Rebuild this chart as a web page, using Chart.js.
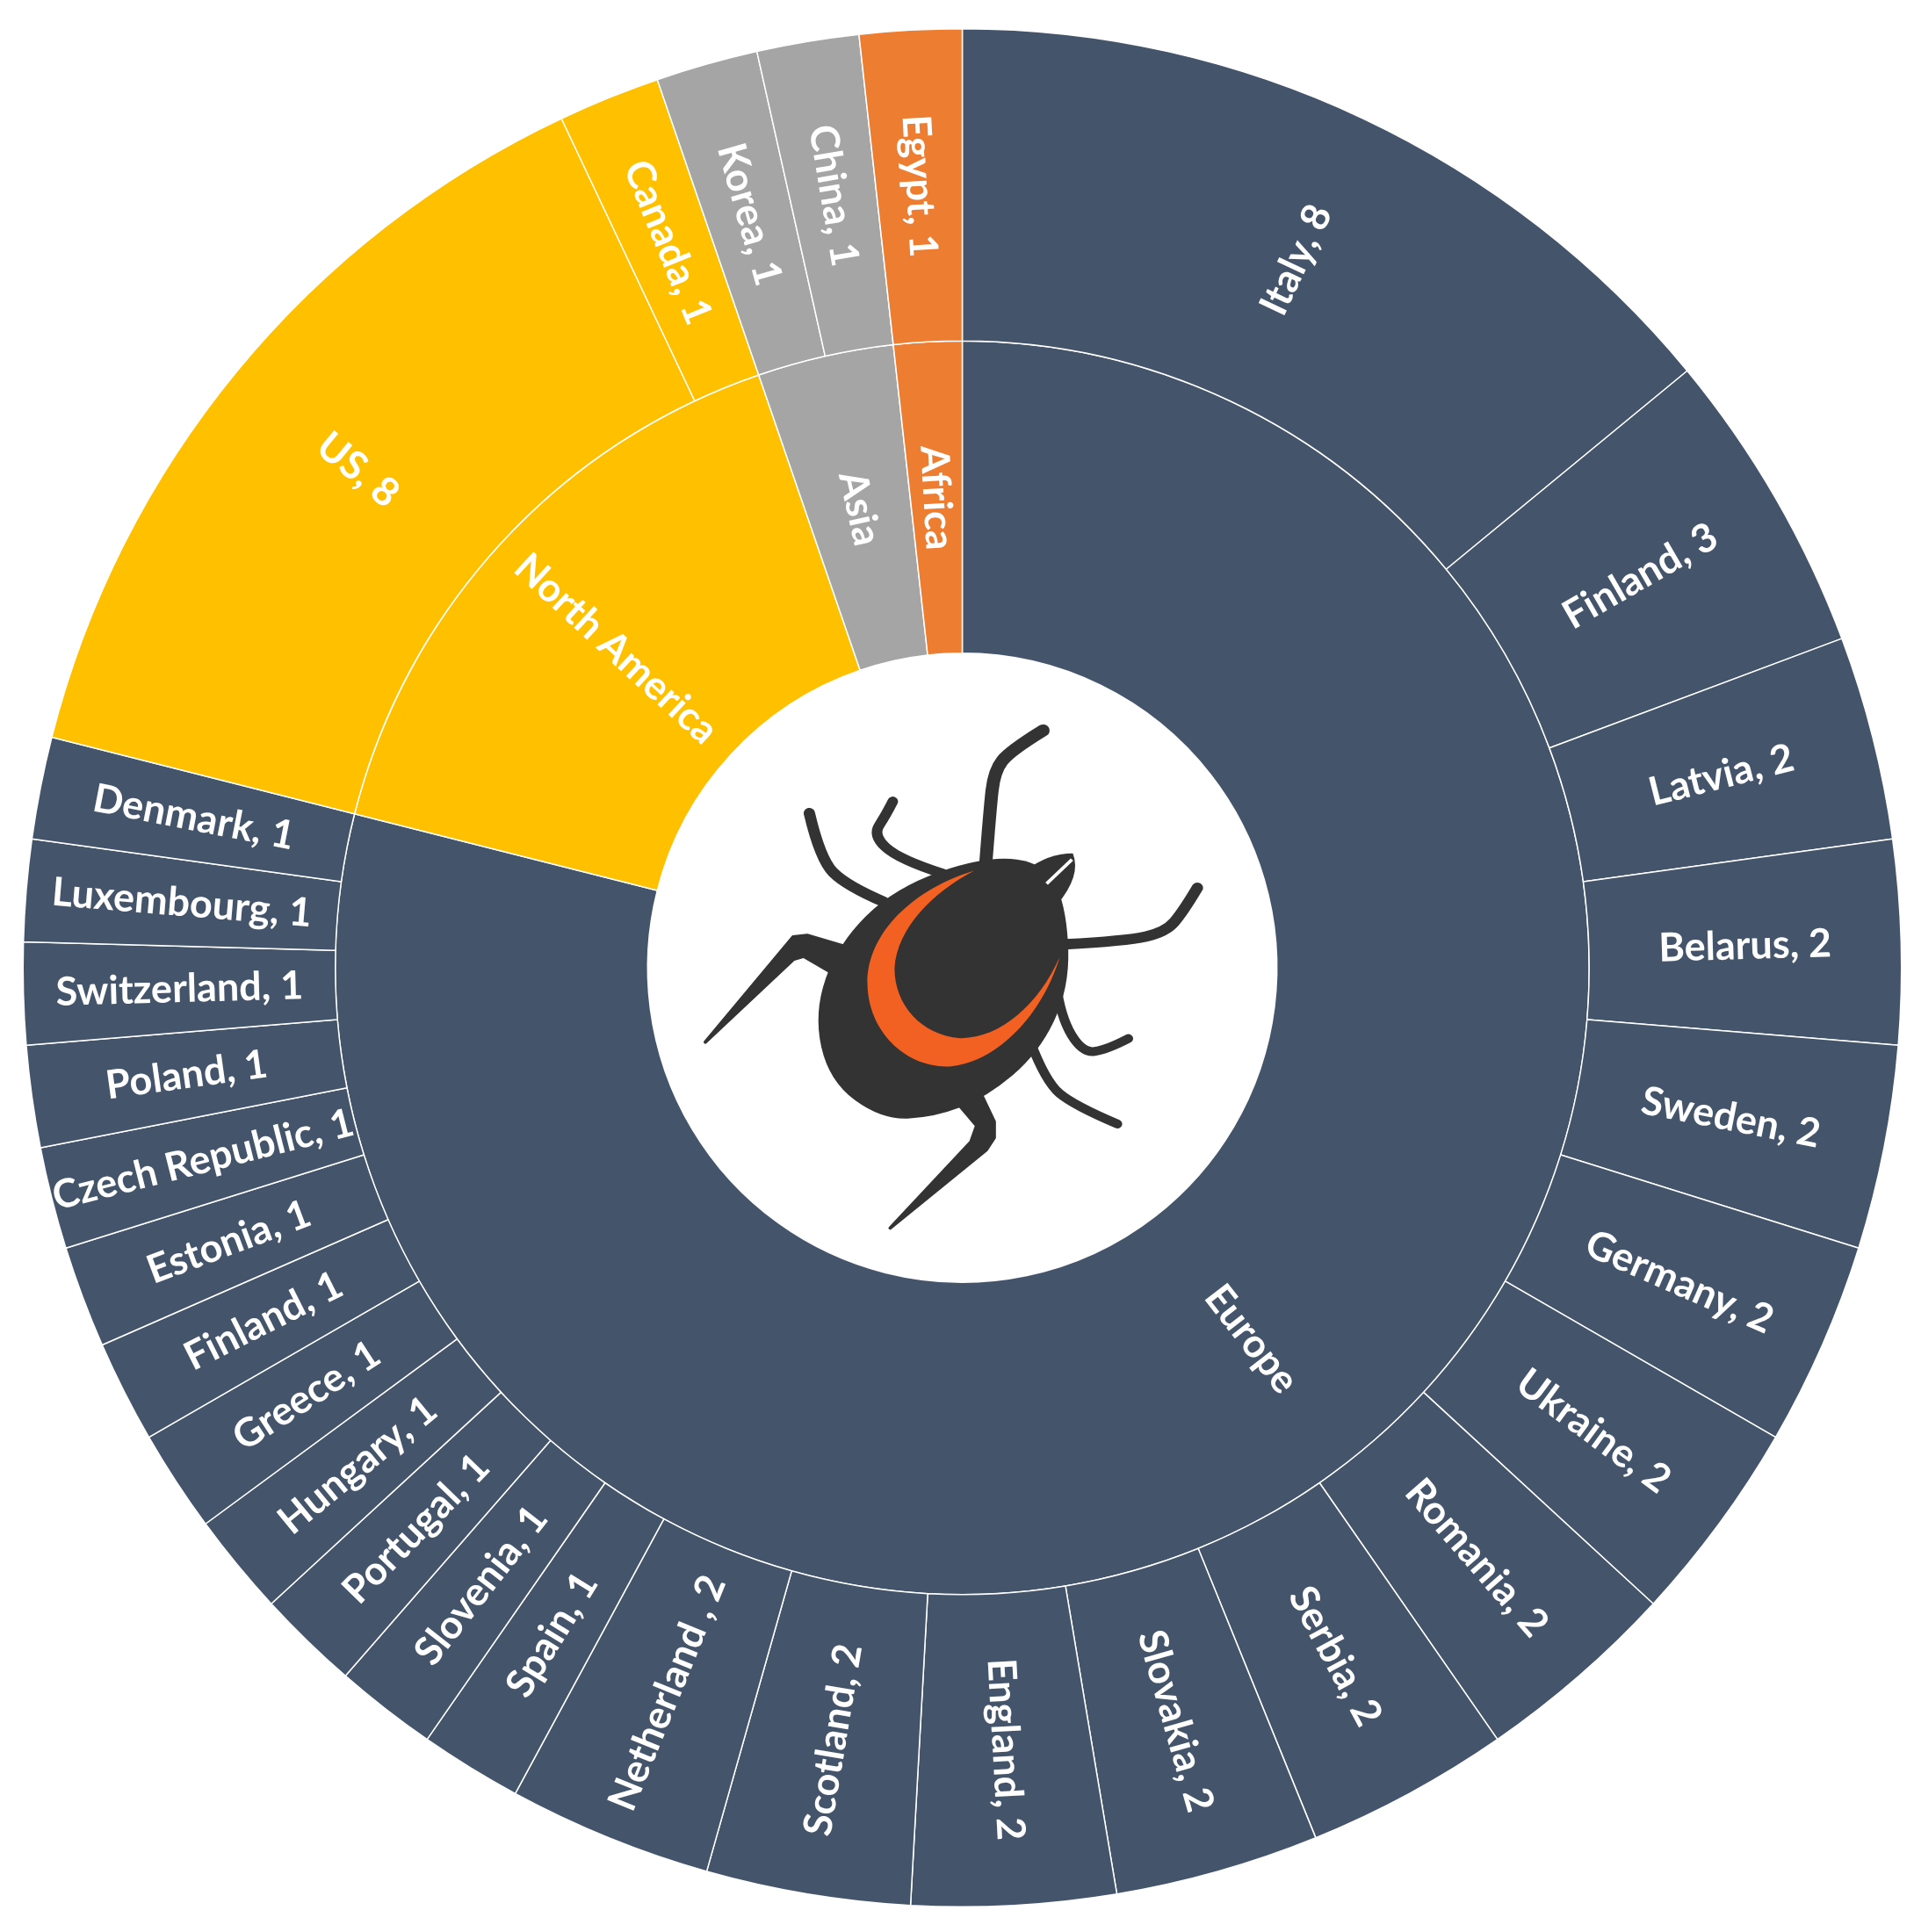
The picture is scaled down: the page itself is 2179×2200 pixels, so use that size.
<!DOCTYPE html>
<html><head><meta charset="utf-8">
<style>html,body{margin:0;padding:0;background:#fff}canvas{display:block}</style>
<script src="https://cdn.jsdelivr.net/npm/chart.js@4"></script>
</head><body><canvas id="c" width="2179" height="2200"></canvas>
<script>
const countries = ["Italy","Finland","Latvia","Belarus","Sweden","Germany","Ukraine","Romania","Serbia","Slovakia","England","Scotland","Netherland ","Spain","Slovenia","Portugal","Hungary","Greece","Finland","Estonia","Czech Republic","Poland","Switzerland","Luxembourg","Denmark","US","Canada","Korea","China","Egypt"];
const countryValues = [8,3,2,2,2,2,2,2,2,2,2,2,2,1,1,1,1,1,1,1,1,1,1,1,1,8,1,1,1,1];
const continents = ["Europe","North America","Asia","Africa"];
const continentValues = [45,9,2,1];
const continentColors = ["#44546A","#FFC000","#A5A5A5","#ED7D31"];
const countryContinent = [...Array(25).fill(0),1,1,2,2,3];

const LABEL_FONT = 'bold 45px Lato, "Open Sans", sans-serif';

const ringLabels = {
  id:'ringLabels',
  afterDatasetsDraw(chart){
    const ctx=chart.ctx;
    const put=(arc,text)=>{
      const p=arc.getProps(['x','y','startAngle','endAngle','innerRadius','outerRadius'],true);
      const a=(p.startAngle+p.endAngle)/2, r=(p.innerRadius+p.outerRadius)/2;
      const x=p.x+Math.cos(a)*r, y=p.y+Math.sin(a)*r;
      let rot=a; const c=Math.cos(a);
      if(c<0) rot=a+Math.PI;
      ctx.save();ctx.translate(x,y);ctx.rotate(rot);
      ctx.fillStyle='#fff';ctx.font=LABEL_FONT;ctx.textAlign='center';ctx.textBaseline='middle';
      ctx.fillText(text,0,0);ctx.restore();
    };
    chart.getDatasetMeta(0).data.forEach((arc,i)=>put(arc,countries[i]+', '+countryValues[i]));
    chart.getDatasetMeta(1).data.forEach((arc,i)=>put(arc,continents[i]));
  }
};

const tickIcon = {
  id:'tickIcon',
  afterDraw(chart){
    const ctx=chart.ctx, INK='#333333', RED='#F26122';
    ctx.save();
    ctx.translate(700,740);ctx.scale(1/2.01,1/2.178);
    const smooth=(pts)=>{
      ctx.beginPath();
      const n=pts.length;
      const m=(a,b)=>[(a[0]+b[0])/2,(a[1]+b[1])/2];
      let s=m(pts[n-1],pts[0]);ctx.moveTo(s[0],s[1]);
      for(let i=0;i<n;i++){const e=m(pts[i],pts[(i+1)%n]);ctx.quadraticCurveTo(pts[i][0],pts[i][1],e[0],e[1]);}
      ctx.closePath();
    };
    const leg=(pts,w)=>{
      ctx.beginPath();ctx.moveTo(pts[0][0],pts[0][1]);
      for(let i=1;i<pts.length-1;i++){
        const e=[(pts[i][0]+pts[i+1][0])/2,(pts[i][1]+pts[i+1][1])/2];
        if(i===pts.length-2){ctx.quadraticCurveTo(pts[i][0],pts[i][1],pts[i+1][0],pts[i+1][1]);}
        else ctx.quadraticCurveTo(pts[i][0],pts[i][1],e[0],e[1]);
      }
      ctx.lineWidth=w;ctx.lineCap='round';ctx.lineJoin='round';ctx.strokeStyle=INK;ctx.stroke();
    };
    const poly=(pts)=>{ctx.beginPath();pts.forEach((p,i)=>i?ctx.lineTo(p[0],p[1]):ctx.moveTo(p[0],p[1]));ctx.closePath();ctx.fillStyle=INK;ctx.fill();ctx.lineWidth=8;ctx.lineJoin='round';ctx.strokeStyle=INK;ctx.stroke();};
    leg([[848,540],[858,400],[868,300],[905,250],[980,200]],30);
    leg([[750,555],[650,520],[590,460],[620,410],[636,376]],24);
    leg([[615,625],[530,585],[470,520],[445,405]],26);
    leg([[1030,730],[1170,722],[1260,700],[1300,650],[1333,590]],26);
    leg([[1010,830],[1020,910],[1070,1000],[1125,992],[1175,964]],22);
    leg([[950,970],[985,1070],[1050,1130],[1150,1176]],22);
    poly([[525,735],[440,708],[408,712],[207,973],[408,768],[432,760],[495,800]]);
    poly([[835,1095],[868,1170],[868,1210],[850,1240],[630,1434],[815,1220],[828,1180],[785,1125]]);
    ctx.fillStyle=INK;
    smooth([[1035,650],[990,530],[850,510],[640,590],[510,730],[455,900],[490,1070],[610,1165],[730,1160],[850,1110],[970,1000],[1040,840]]);ctx.fill();
    ctx.beginPath();ctx.moveTo(940,548);ctx.quadraticCurveTo(990,505,1048,505);ctx.quadraticCurveTo(1068,560,1012,632);ctx.closePath();ctx.fill();
    ctx.beginPath();ctx.moveTo(988,580);ctx.lineTo(1046,520);ctx.lineWidth=8;ctx.lineCap='butt';ctx.strokeStyle='#fff';ctx.stroke();
    ctx.fillStyle=RED;ctx.beginPath();ctx.moveTo(822,548);
    ctx.bezierCurveTo(690,590,575,700,578,830);
    ctx.bezierCurveTo(580,950,670,1040,770,1033);
    ctx.bezierCurveTo(880,1020,980,900,1018,762);
    ctx.bezierCurveTo(970,880,880,965,790,963);
    ctx.bezierCurveTo(700,955,640,880,640,790);
    ctx.bezierCurveTo(645,690,730,600,822,548);
    ctx.closePath();ctx.fill();
    ctx.restore();
  }
};

new Chart(document.getElementById('c'),{
  type:'doughnut',
  data:{labels:countries,datasets:[
    {data:countryValues,backgroundColor:countryContinent.map(i=>continentColors[i]),borderColor:'#fff',borderWidth:1.5},
    {data:continentValues,backgroundColor:continentColors,borderColor:'#fff',borderWidth:1.5}
  ]},
  options:{responsive:false,animation:false,cutout:'33.5%',rotation:0,
    layout:{padding:{left:25,right:13,top:32,bottom:28}},
    plugins:{legend:{display:false},tooltip:{enabled:false},title:{display:false}}},
  plugins:[ringLabels,tickIcon]
});
</script></body></html>
